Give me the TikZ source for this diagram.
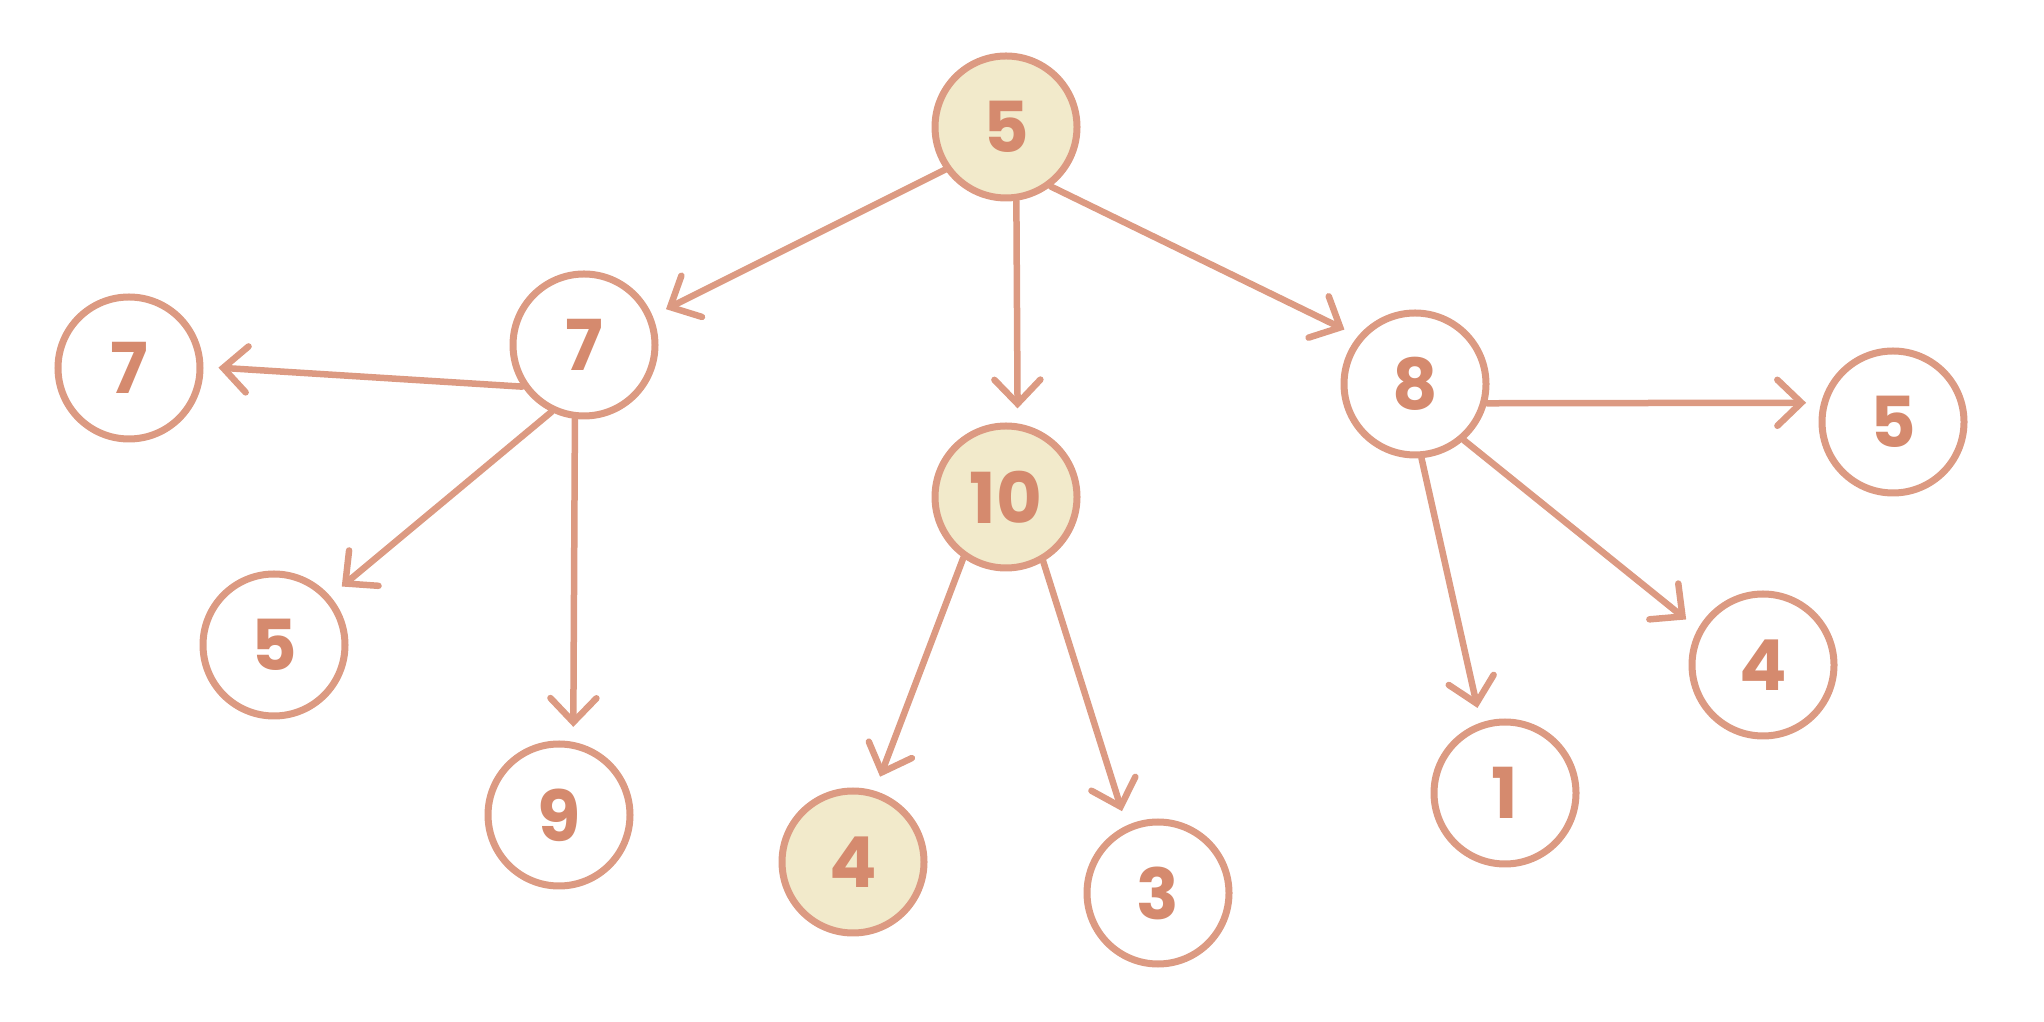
\documentclass[tikz,border=0pt]{standalone}
\usepackage{fontspec}
\setmainfont{Poppins}
\usepackage{xcolor}
\usepackage{tikz}
\usetikzlibrary{arrows.meta}

\definecolor{vien}{HTML}{DC9A82}
\definecolor{chu}{HTML}{D58A6E}
\definecolor{nen}{HTML}{F2EACB}

\begin{document}
\begin{tikzpicture}[>={Straight Barb[length=0.24cm, width=0.46cm, line cap=round]},
    dinh/.style={circle, draw=vien, line width=0.07cm, fill=white, minimum size=1.42cm,
        inner sep=0pt, text=chu, font=\fontsize{20}{24}\selectfont\bfseries},
    dinhto/.style={dinh, fill=nen},
    canh/.style={->, draw=vien, line width=0.065cm, line cap=round, shorten >=0.15cm}]
    \useasboundingbox (0,0) rectangle (20.44,10.22);
    % Các đỉnh
    \node[dinhto] (goc) at (10.06,8.95) {5};
    \node[dinh] (a) at (5.84,6.77) {7};
    \node[dinh] (a1) at (1.29,6.54) {7};
    \node[dinh] (a2) at (2.74,3.77) {5};
    \node[dinh] (a3) at (5.59,2.07) {9};
    \node[dinhto] (b) at (10.06,5.25) {10};
    \node[dinhto] (b1) at (8.53,1.60) {4};
    \node[dinh] (b2) at (11.58,1.29) {3};
    \node[dinh] (c) at (14.15,6.38) {8};
    \node[dinh] (c1) at (18.93,6.00) {5};
    \node[dinh] (c2) at (17.63,3.57) {4};
    \node[dinh] (c3) at (15.05,2.29) {1};
    % Các cạnh
    \draw[canh] (goc.215) -- (a.23);
    \draw[canh] (goc.278) -- (b.81);
    \draw[canh] (goc.307) -- (c.140);
    \draw[canh] (a.214) -- (a1.1);
    \draw[canh] (a.244) -- (a2.41);
    \draw[canh] (a.263) -- (a3.79);
    \draw[canh] (b.235) -- (b1.73);
    \draw[canh] (b.300) -- (b2.115);
    \draw[canh] (c.345) -- (c1.165);
    \draw[canh] (c.311) -- (c2.151);
    \draw[canh] (c.275) -- (c3.109);
\end{tikzpicture}
\end{document}
